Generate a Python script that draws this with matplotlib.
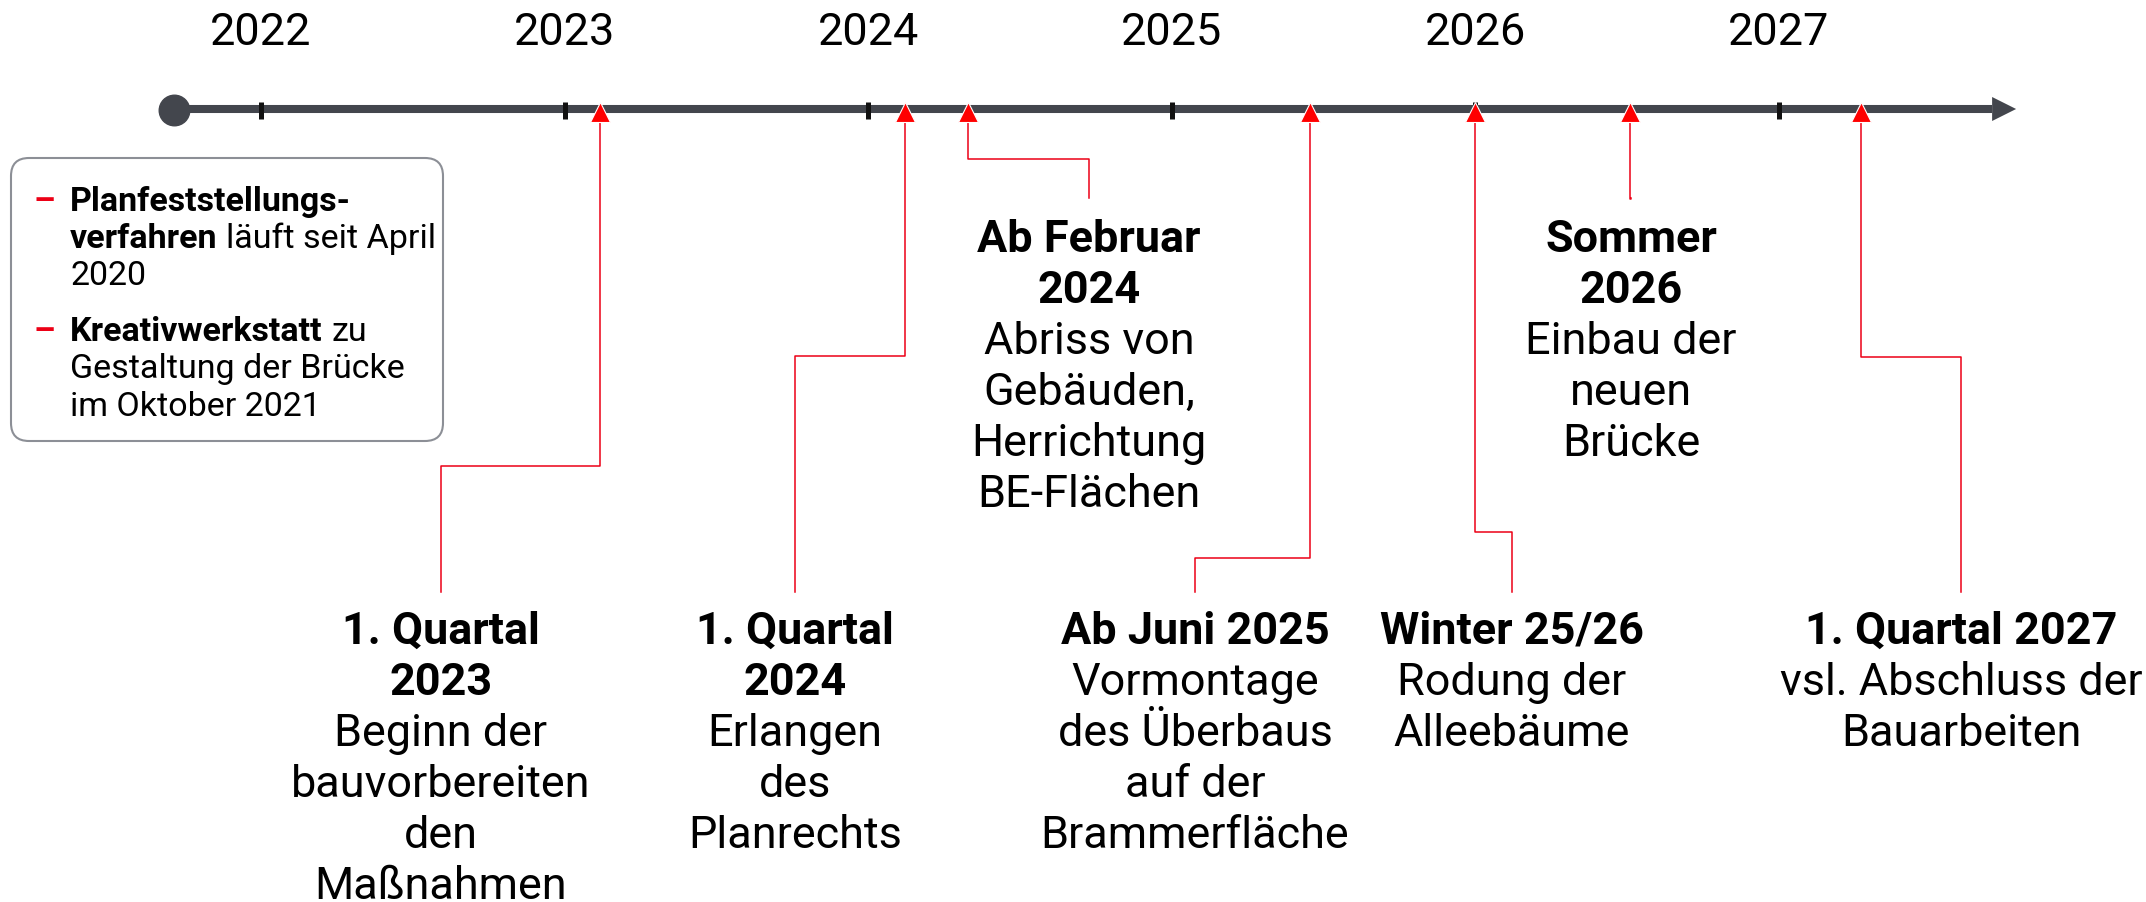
import matplotlib.pyplot as plt
from matplotlib.patches import FancyBboxPatch
from matplotlib.transforms import Affine2D

plt.rcParams['font.family'] = ['Roboto', 'DejaVu Sans']

W, H = 2146, 902

# timeline data
years = [2022, 2023, 2024, 2025, 2026, 2027]
timeline_start = 2021.713
timeline_end = 2027.781

event_dates = [2023.115, 2024.12, 2024.33, 2025.455, 2025.998, 2026.51, 2027.27]
event_titles = ["1. Quartal\n2023", "1. Quartal\n2024", "Ab Februar\n2024",
                "Ab Juni 2025", "Winter 25/26", "Sommer\n2026", "1. Quartal 2027"]
event_texts = ["Beginn der\nbauvorbereiten\nden\nMaßnahmen",
               "Erlangen\ndes\nPlanrechts",
               "Abriss von\nGebäuden,\nHerrichtung\nBE-Flächen",
               "Vormontage\ndes Überbaus\nauf der\nBrammerfläche",
               "Rodung der\nAlleebäume",
               "Einbau der\nneuen\nBrücke",
               "vsl. Abschluss der\nBauarbeiten"]
event_upper = [False, False, True, False, False, True, False]

# legend box lines: list of (text, bold) segments, plus whether a red dash starts it
note_lines = [
    [("Planfeststellungs-", True)],
    [("verfahren", True), ("läuft seit April", False)],
    [("2020", False)],
    [("Kreativwerkstatt", True), ("zu", False)],
    [("Gestaltung der Brücke", False)],
    [("im Oktober 2021", False)],
]
note_dash = [True, False, False, True, False, False]

# layout (pixels)
label_x_px = [441, 795, 1089, 1195, 1512, 1631, 1961]
elbow_y_px = [466, 356, 159, 558, 532, 199, 357]

GRAY = '#43464d'
RED = '#ec0016'
TRI = '#ff0000'
FS = 32.4
NFS = 24.5
LINE_Y = 109


def yr(px):
    return 2022 + (px - 261) / 303.6


fig = plt.figure(figsize=(W / 100, H / 100), dpi=100)
ax = fig.add_axes([0, 0, 1, 1])
ax.set_xlim(yr(0), yr(W))
ax.set_ylim(H, 0)
ax.axis('off')

# pixel transform (y from top) for the note box
pix = Affine2D().scale(1 / W, -1 / H).translate(0, 1) + fig.transFigure

# main axis line with arrow head
head_start = timeline_end - (24 / 303.6)
ax.plot([timeline_start, head_start], [LINE_Y, LINE_Y], color=GRAY, lw=5.8,
        solid_capstyle='butt', zorder=2)
ax.fill([head_start, timeline_end, head_start], [LINE_Y - 12, LINE_Y, LINE_Y + 12],
        color=GRAY, lw=0, zorder=2)
ax.plot(timeline_start, LINE_Y + 0.5, 'o', ms=22, color=GRAY, zorder=3)

# year ticks + labels
ax.vlines(years, LINE_Y - 7, LINE_Y + 10, color='#111111', lw=3.6, zorder=3)
for y in years:
    ax.text(y, 45, str(y), ha='center', va='baseline', fontsize=FS)

# connectors
for d, lx, ey, up in zip(event_dates, label_x_px, elbow_y_px, event_upper):
    end = 198 if up else 592
    lxy = yr(lx)
    ax.plot([d, d, lxy, lxy], [LINE_Y + 12, ey, ey, end], color=RED, lw=1.1, zorder=1)

# markers
ax.plot(event_dates, [LINE_Y + 2.5] * len(event_dates), '^', ms=14.5, color=TRI,
        mec='white', mew=0.8, zorder=4)

# event labels
for title, text, lx, up in zip(event_titles, event_texts, label_x_px, event_upper):
    base = 252 if up else 644
    lines = [(t, 'bold') for t in title.split('\n')] + [(t, 'normal') for t in text.split('\n')]
    for j, (t, w) in enumerate(lines):
        ax.text(yr(lx), base + 51 * j, t, ha='center', va='baseline', fontsize=FS,
                fontweight=w)

# note box
box = FancyBboxPatch((11, 158), 432, 283, boxstyle='round,pad=0,rounding_size=18',
                     fc='white', ec='#8c8f96', lw=1.5, transform=pix, zorder=5)
ax.add_patch(box)

baselines = [211, 248, 285, 341, 378, 416]
for segs, dash, b in zip(note_lines, note_dash, baselines):
    if dash:
        ax.text(33, b, '–', color=RED, fontsize=NFS, fontweight='bold',
                va='baseline', transform=pix, zorder=6)
    prev = None
    for t, bold in segs:
        w = 'bold' if bold else 'normal'
        if prev is None:
            prev = ax.text(70, b, t, fontsize=NFS, fontweight=w, va='baseline',
                           transform=pix, zorder=6)
        else:
            prev = ax.annotate(t, xy=(1, 0), xycoords=prev, xytext=(9, 0),
                               textcoords='offset pixels', va='bottom', ha='left',
                               fontsize=NFS, fontweight=w, zorder=6,
                               annotation_clip=False)

fig.savefig('out.png', dpi=100)
